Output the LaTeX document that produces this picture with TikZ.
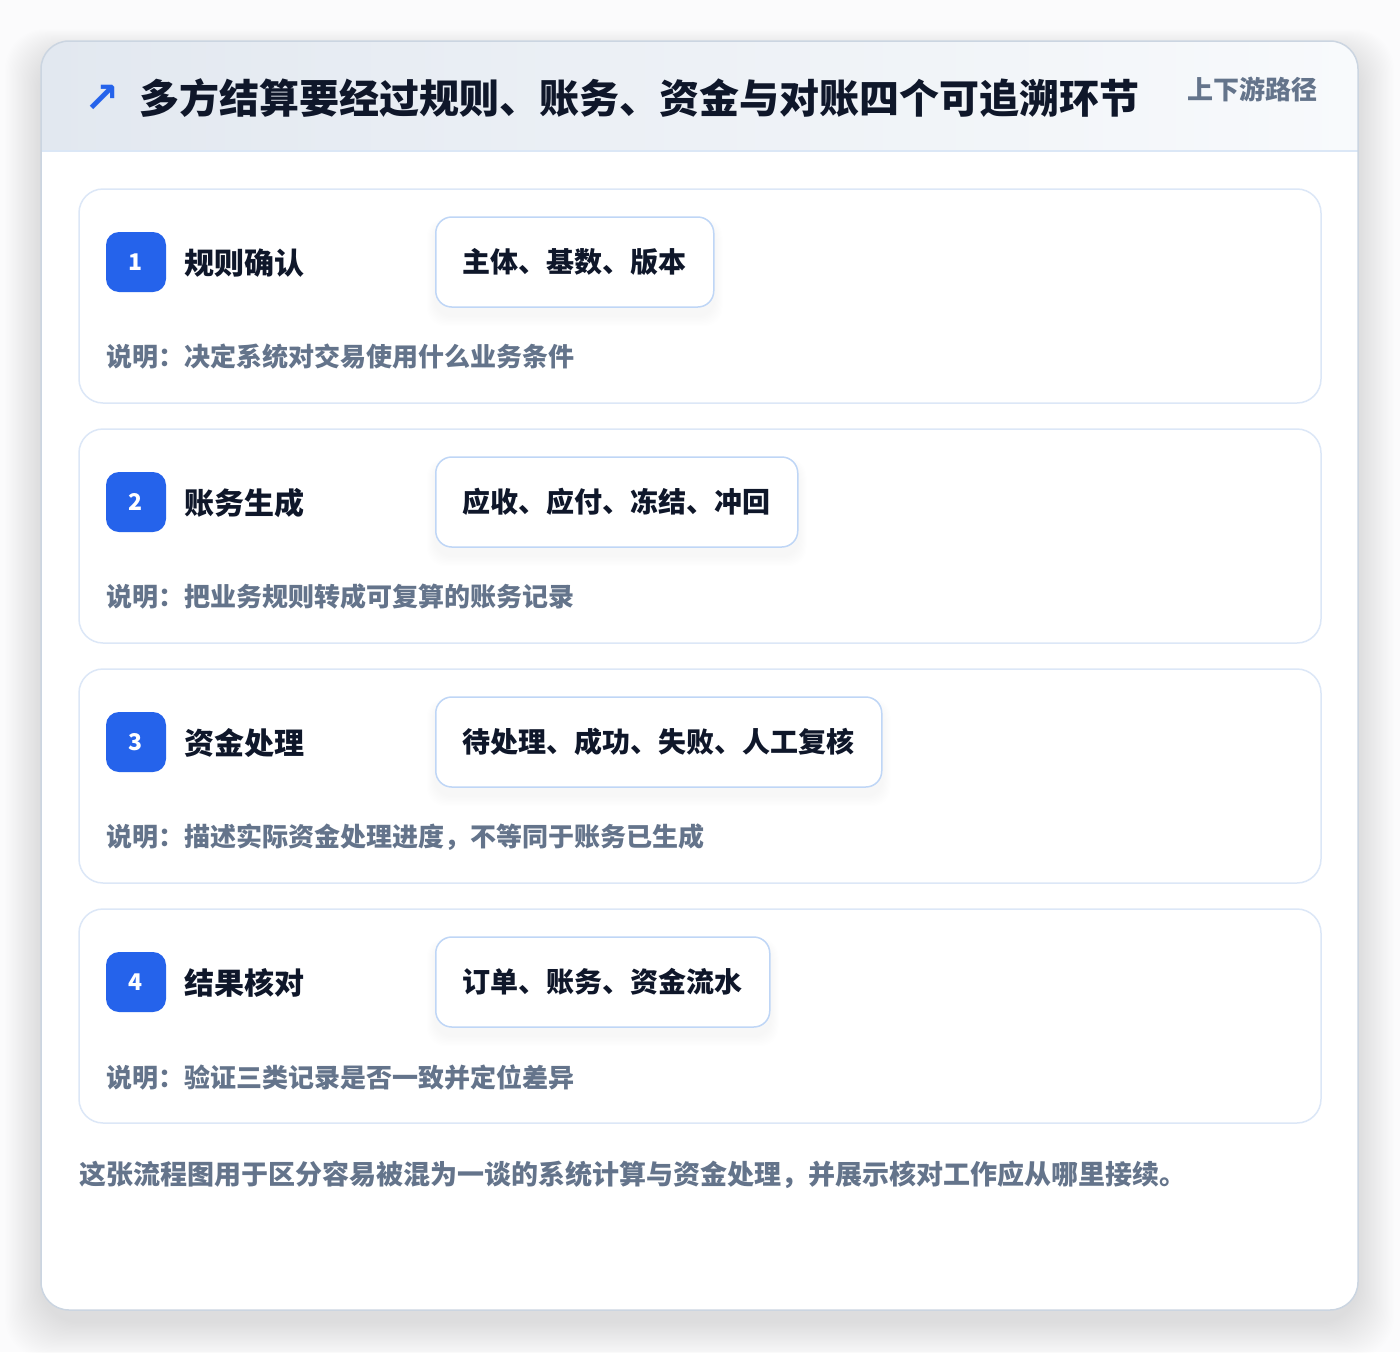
\documentclass[tikz,border=0pt]{standalone}
\usepackage{fontspec}
\setmainfont{Noto Sans CJK SC}
\newfontfamily\symfont{DejaVu Sans}
\definecolor{pagebg}{HTML}{FBFBFC}
\definecolor{cardline}{HTML}{CBD5E1}
\definecolor{hdrleft}{HTML}{E2E8F0}
\definecolor{hdrright}{HTML}{F8FAFC}
\definecolor{hdrline}{HTML}{DBE7F6}
\definecolor{stepline}{HTML}{DCE7F7}
\definecolor{tagline}{HTML}{BFD6F6}
\definecolor{ink}{HTML}{0F172A}
\definecolor{muted}{HTML}{64748B}
\definecolor{accent}{HTML}{2563EB}
\tikzset{
  stepcard/.style={draw=stepline, line width=1.5pt, fill=white, rounded corners=24pt},
  badge/.style={fill=accent, text=white, rounded corners=13pt, minimum size=60pt, inner sep=0pt, font=\bfseries\fontsize{23}{26}\selectfont},
  steptitle/.style={anchor=west, inner sep=0pt, text=ink, font=\bfseries\fontsize{30}{36}\selectfont},
  tagbox/.style={anchor=west, draw=tagline, line width=1.5pt, fill=white, rounded corners=16pt, minimum height=90pt, inner xsep=27pt, inner ysep=0pt, text=ink, font=\bfseries\fontsize{28}{34}\selectfont},
  desc/.style={anchor=west, inner sep=0pt, text=muted, font=\bfseries\fontsize{26}{32}\selectfont},
}
\begin{document}
\begin{tikzpicture}[x=1pt,y=-1pt]
\useasboundingbox (0,0) rectangle (1400,1352);
\fill[pagebg] (0,0) rectangle (1400,1352);
% card shadow
\foreach \i in {1,...,30} {
  \fill[black, opacity=0.0035, rounded corners=40pt] (41-\i*1.2,41-\i*0.8+12) rectangle (1358+\i*1.2,1310+\i*1.2+12);
}
% card
\fill[white, rounded corners=28pt] (41,41) rectangle (1358,1310);
\begin{scope}
  \clip[rounded corners=28pt] (41,41) rectangle (1358,1310);
  \shade[left color=hdrleft, right color=hdrright] (41,41) rectangle (1358,151);
\end{scope}
\draw[hdrline, line width=1.5pt] (41,151) -- (1358,151);
\draw[cardline, line width=1.5pt, rounded corners=28pt] (41,41) rectangle (1358,1310);
% header
\node[text=accent, inner sep=0pt, font=\symfont\bfseries\fontsize{42}{46}\selectfont] (icon) at (102,99) {↗};
\node[anchor=west, inner sep=0pt, text=ink, font=\bfseries\fontsize{40}{48}\selectfont] (title) at (139,98) {多方结算要经过规则、账务、资金与对账四个可追溯环节};
\node[anchor=east, inner sep=0pt, text=muted, font=\bfseries\fontsize{26}{32}\selectfont] (path) at (1318,89) {上下游路径};
% steps
\foreach \n/\ttl/\tg/\ds in {
  1/规则确认/主体、基数、版本/说明：决定系统对交易使用什么业务条件,
  2/账务生成/应收、应付、冻结、冲回/说明：把业务规则转成可复算的账务记录,
  3/资金处理/待处理、成功、失败、人工复核/说明：描述实际资金处理进度，不等同于账务已生成,
  4/结果核对/订单、账务、资金流水/说明：验证三类记录是否一致并定位差异} {
  \pgfmathsetmacro{\cardtop}{189+240*(\n-1)}
  \draw[stepcard] (79,\cardtop) rectangle (1321,\cardtop+214);
  \node[badge] (b\n) at (136,\cardtop+73) {\n};
  \node[steptitle] (t\n) at (184,\cardtop+74) {\ttl};
  \node[tagbox, draw=none, fill=none] (tagshape\n) at (435,\cardtop+73) {\phantom{\tg}};
  \foreach \k in {1,...,8} {
    \fill[black, opacity=0.004, rounded corners=18pt] ([xshift=-\k*1pt, yshift=-6pt+\k*0.5pt]tagshape\n.north west) rectangle ([xshift=\k*1pt, yshift=-8pt-\k*1.3pt]tagshape\n.south east);
  }
  \node[tagbox] (tag\n) at (435,\cardtop+73) {\tg};
  \node[desc] (d\n) at (106,\cardtop+168) {\ds};
}
% footer
\node[desc, font=\bfseries\fontsize{27}{32}\selectfont] (foot) at (79,1175) {这张流程图用于区分容易被混为一谈的系统计算与资金处理，并展示核对工作应从哪里接续。};
\end{tikzpicture}
\end{document}
